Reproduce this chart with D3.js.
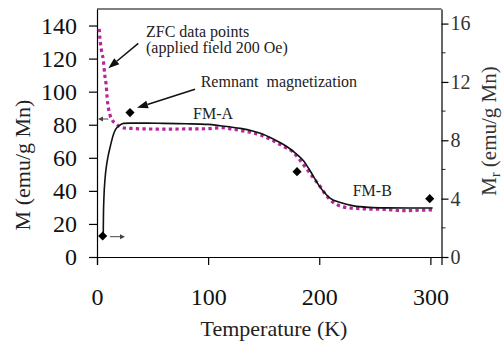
<!DOCTYPE html>
<html>
<head>
<meta charset="utf-8">
<script src="https://cdn.jsdelivr.net/npm/d3@7"></script>
<style>
body { margin: 0; background: #fff; }
</style>
</head>
<body>
<svg id="chart" width="503" height="341"></svg>
<script>
// FC curve (solid black), M in emu/g Mn
let fcT = [5.6, 5.8, 6.3, 7.2, 8.7, 10, 12, 14.7, 17, 20, 24, 30, 45, 60, 80, 100, 111, 129, 140, 147, 159, 171, 180, 186, 190.5, 195, 199.5, 204, 210, 219, 231, 245, 260, 280, 302];
let fcM = [12, 25, 37, 47, 56, 61, 67, 74, 77.5, 79.5, 80.8, 81, 81, 80.8, 80.6, 80.2, 79.4, 77.8, 76.2, 74.8, 71.2, 66.7, 62, 58, 53.5, 48.5, 43.5, 39.5, 35.5, 32.9, 30.9, 30, 29.7, 29.6, 29.6];
// ZFC data points (magenta dots)
let zfcT = [2, 2.3, 3, 4, 5.7, 7, 8.1, 9.3, 11.7, 14, 16.2, 20.7, 25, 30, 40, 55, 70, 85, 100, 111, 123, 135, 147, 160, 168, 176, 185, 195, 201, 206, 212, 221, 230, 245, 260, 275, 290, 302];
let zfcM = [138, 135, 130, 125, 119, 110, 105, 95, 86, 82.5, 81, 78.8, 78, 77.8, 77.5, 77.4, 77.4, 77.5, 77.6, 78.2, 77.2, 75.8, 73.8, 69.8, 66.8, 63.7, 56.5, 47.6, 42.5, 37.5, 33.3, 30.4, 29.5, 29, 28.8, 28, 28.3, 28.5];
// remnant magnetization (diamonds, right axis)
let remT = [5.1, 29.7, 180, 299.4];
let remMr = [1.44, 9.9, 5.85, 4.0];

let xTicks = [0, 100, 200, 300];
let yLeftTicks = [0, 20, 40, 60, 80, 100, 120, 140];
let yRightTicks = [0, 4, 8, 12, 16];
let yRightMinor = [2, 6, 10, 14];

let width = 503, height = 341;
let margin = ({top: 9, right: 61.5, bottom: 84, left: 97});
let serif = "'Liberation Serif'";
let svg = d3.select("#chart");

let x = d3.scaleLinear().domain([0, 310]).range([margin.left, width - margin.right]);
let yL = d3.scaleLinear().domain([0, 150]).range([height - margin.bottom, margin.top]);
let yR = d3.scaleLinear().domain([0, 17]).range([height - margin.bottom, margin.top]);

let fcData = fcT.map((t, i) => ({t: t, m: fcM[i]}));
let zfcData = zfcT.map((t, i) => ({t: t, m: zfcM[i]}));
let remData = remT.map((t, i) => ({t: t, m: remMr[i]}));

// axes
let x_axis = g => g
    .attr("transform", `translate(0, ${height - margin.bottom})`)
    .call(d3.axisBottom(x).tickValues(xTicks).tickSize(8).tickSizeOuter(8).tickPadding(23));
let yl_axis = g => g
    .attr("transform", `translate(${margin.left}, 0)`)
    .call(d3.axisLeft(yL).tickValues(yLeftTicks).tickSize(8).tickSizeOuter(0).tickPadding(12));
let yr_axis = g => g
    .attr("transform", `translate(${width - margin.right}, 0)`)
    .call(d3.axisRight(yR).tickValues(yRightTicks).tickSize(7).tickSizeOuter(0).tickPadding(2));

let gx = svg.append("g").call(x_axis);
gx.selectAll("text").attr("font-size", 24).attr("fill", "#111");
let gl = svg.append("g").call(yl_axis);
gl.selectAll("text").attr("font-size", 24).attr("fill", "#111");
let gr = svg.append("g").call(yr_axis);
gr.selectAll("text").attr("font-size", 20).attr("fill", "#333");
[gx, gl, gr].forEach(g => {
    g.attr("font-family", null);
    g.selectAll("text").style("font-family", serif);
    g.selectAll("path, line").attr("stroke", "#000").attr("stroke-width", 1.2);
});

// minor ticks on right axis
svg.append("g").selectAll("line")
    .data(yRightMinor)
    .join("line")
    .attr("x1", width - margin.right)
    .attr("x2", width - margin.right + 4)
    .attr("y1", d => yR(d))
    .attr("y2", d => yR(d))
    .attr("stroke", "#333")
    .attr("stroke-width", 1.1);

// top frame line
svg.append("line")
    .attr("x1", margin.left).attr("x2", width - margin.right)
    .attr("y1", margin.top).attr("y2", margin.top)
    .attr("stroke", "#000").attr("stroke-width", 1.2);

// axis titles
svg.append("text")
    .attr("transform", "translate(30, 165) rotate(-90)")
    .attr("text-anchor", "middle")
    .style("font-family", serif)
    .attr("font-size", 22)
    .attr("fill", "#222")
    .text("M (emu/g Mn)");
let rt = svg.append("text")
    .attr("transform", "translate(496, 131) rotate(-90)")
    .attr("text-anchor", "middle")
    .style("font-family", serif)
    .attr("font-size", 21)
    .attr("fill", "#333");
rt.append("tspan").text("M");
rt.append("tspan").attr("font-size", 14).attr("dy", 4).text("r");
rt.append("tspan").attr("dy", -4).text(" (emu/g Mn)");
svg.append("text")
    .attr("x", 274).attr("y", 336)
    .attr("text-anchor", "middle")
    .style("font-family", serif)
    .attr("font-size", 22)
    .attr("fill", "#222")
    .text("Temperature (K)");

// curves
let line = d3.line()
    .x(d => x(d.t))
    .y(d => yL(d.m))
    .curve(d3.curveMonotoneX);
svg.append("path")
    .datum(zfcData)
    .attr("fill", "none")
    .attr("stroke", "#b4289b")
    .attr("stroke-width", 3.2)
    .attr("stroke-dasharray", "3.3,3.3")
    .attr("d", line);
svg.append("path")
    .datum(fcData)
    .attr("fill", "none")
    .attr("stroke", "#111")
    .attr("stroke-width", 1.6)
    .attr("d", line);

// diamonds
svg.append("g").selectAll("path")
    .data(remData)
    .join("path")
    .attr("transform", d => `translate(${x(d.t)}, ${yR(d.m)}) rotate(45)`)
    .attr("d", d3.symbol(d3.symbolSquare, 42))
    .attr("fill", "#000");

// arrows
function arrow(x1, y1, x2, y2, head, hw, color, sw) {
    let ang = Math.atan2(y2 - y1, x2 - x1);
    let bx = x2 - head * Math.cos(ang), by = y2 - head * Math.sin(ang);
    svg.append("line")
        .attr("x1", x1).attr("y1", y1).attr("x2", bx).attr("y2", by)
        .attr("stroke", color).attr("stroke-width", sw);
    let px = -Math.sin(ang) * hw / 2, py = Math.cos(ang) * hw / 2;
    svg.append("path")
        .attr("d", `M${x2},${y2}L${bx + px},${by + py}L${bx - px},${by - py}Z`)
        .attr("fill", color);
}
arrow(138.3, 43.3, 108.3, 68.3, 11, 8, "#111", 1.5);
arrow(195, 89.3, 137, 107.8, 11, 8, "#111", 1.5);
arrow(108.3, 119, 98, 119, 5, 5, "#444", 1);
arrow(110, 236.7, 125, 236.7, 5, 5, "#444", 1);

// annotation texts
let notes = [
    {x: 146, y: 36.5, s: "ZFC data points"},
    {x: 146, y: 53, s: "(applied field 200 Oe)"},
    {x: 200.7, y: 87.3, s: "Remnant  magnetization"},
    {x: 193, y: 119.3, s: "FM-A"},
    {x: 352.7, y: 196, s: "FM-B"},
];
svg.append("g").selectAll("text")
    .data(notes)
    .join("text")
    .attr("x", d => d.x)
    .attr("y", d => d.y)
    .style("font-family", serif)
    .attr("font-size", 16)
    .attr("fill", "#222")
    .style("white-space", "pre")
    .text(d => d.s);
</script>
</body>
</html>
